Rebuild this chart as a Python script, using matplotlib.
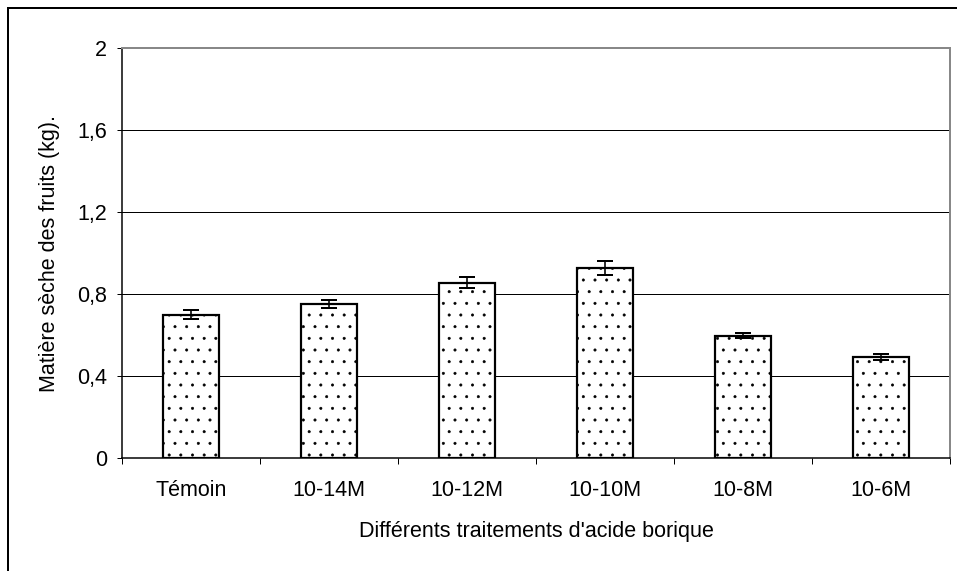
import matplotlib
matplotlib.use('Agg')
from matplotlib import pyplot as plt
from matplotlib.patches import Rectangle

# données
categories = ['Témoin', '10-14M', '10-12M', '10-10M', '10-8M', '10-6M']
values = [0.70, 0.75, 0.855, 0.927, 0.597, 0.493]
errors = [0.022, 0.02, 0.026, 0.032, 0.013, 0.015]
yticks = [0, 0.4, 0.8, 1.2, 1.6, 2]
ytick_labels = ['0', '0,4', '0,8', '1,2', '1,6', '2']

DPI = 70


def pt(px):
    return px * 72.0 / DPI


plt.rcParams['font.family'] = ['Liberation Sans', 'DejaVu Sans']
plt.rcParams['hatch.linewidth'] = pt(0.6)
plt.rcParams['hatch.color'] = '#444444'

fig = plt.figure(figsize=(957 / DPI, 571 / DPI), dpi=DPI)
ax = fig.add_axes([122 / 957, 1 - 458 / 571, (950 - 122) / 957, (458 - 48) / 571])

x = list(range(len(categories)))
ax.bar(x, values, width=0.41, color='white', edgecolor='black',
       linewidth=pt(2.2), hatch='.', zorder=3)
ax.errorbar(x, values, yerr=errors, fmt='none', ecolor='black',
            elinewidth=pt(1.6), capsize=pt(8), capthick=pt(2), zorder=4)

ax.set_xlim(-0.5, len(categories) - 0.5)
ax.set_ylim(0, 2)
ax.set_yticks(yticks)
ax.set_yticklabels(ytick_labels)
ax.yaxis.grid(True, color='black', linewidth=pt(1))
ax.set_axisbelow(True)

ax.set_xticks(x)
ax.set_xticklabels(categories)
ax.set_xticks([i - 0.5 for i in range(len(categories) + 1)], minor=True)
ax.tick_params(axis='x', which='major', length=0, pad=pt(22), labelsize=pt(21.5))
ax.tick_params(axis='x', which='minor', direction='out', length=pt(6), width=pt(1))
ax.tick_params(axis='y', direction='out', length=pt(5), width=pt(1), pad=pt(10), labelsize=pt(21.5))

for side in ['top', 'right']:
    ax.spines[side].set_color('#888888')
    ax.spines[side].set_linewidth(pt(2))
for side in ['left', 'bottom']:
    ax.spines[side].set_color('black')
    ax.spines[side].set_linewidth(pt(1.5))

fig.text(50 / 957, 1 - 253 / 571, 'Matière sèche des fruits (kg).', rotation=90,
         ha='center', va='center', fontsize=pt(21.5))
fig.text(536 / 957, 1 - 531 / 571, "Différents traitements d'acide borique",
         ha='center', va='center', fontsize=pt(21.5))

# cadre extérieur
fig.patches.append(Rectangle((8 / 957, -0.1), 1.2, 1 - 8 / 571 + 0.1,
                             transform=fig.transFigure, fill=False,
                             edgecolor='black', linewidth=pt(2)))

fig.savefig('out.png', dpi=DPI)
